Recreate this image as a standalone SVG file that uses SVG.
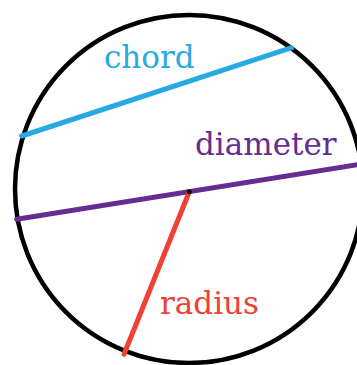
<svg xmlns="http://www.w3.org/2000/svg" width="357" height="365" viewBox="0 0 357 365">
<style>
.lbl{font-family:"DejaVu Serif","Liberation Serif",serif;font-size:31px}
.seg{fill:none;stroke-width:5;stroke-linecap:round}
</style>
<rect width="357" height="365" fill="#fff"/>
<g id="circle">
<circle cx="189" cy="189" r="174" fill="none" stroke="#000" stroke-width="4.5"/>
</g>
<g id="connectors">
<line id="chord-line" class="seg" x1="21.7" y1="136" x2="291.7" y2="47.7" stroke="#27AAE1"/>
<line id="diameter-line" class="seg" x1="16.7" y1="219.3" x2="362" y2="164" stroke="#662D91"/>
<line id="radius-line" class="seg" x1="189.3" y1="191.7" x2="124" y2="354.3" stroke="#EF4136"/>
</g>
<g id="center">
<circle cx="189.3" cy="191.7" r="2.5" fill="#000"/>
</g>
<g id="chord">
<text class="lbl" x="104" y="67.5" fill="#27AAE1">chord</text>
</g>
<g id="diameter">
<text class="lbl" x="195" y="155" fill="#662D91">diameter</text>
</g>
<g id="radius">
<text class="lbl" x="160" y="314" fill="#EF4136">radius</text>
</g>
</svg>
